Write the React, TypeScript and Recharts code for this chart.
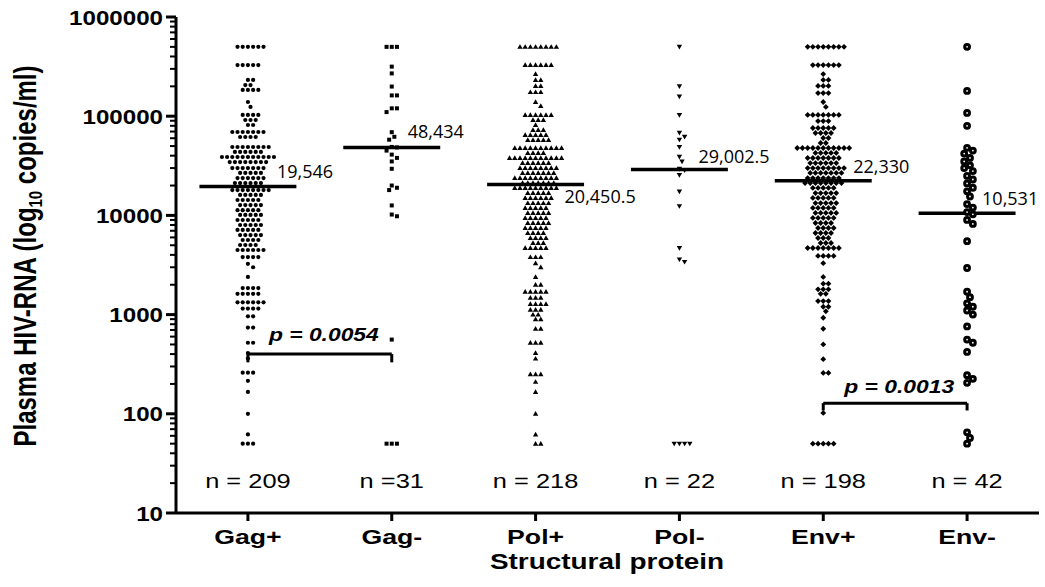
import React from 'react';
import { ScatterChart, Scatter, XAxis, YAxis, ReferenceLine } from 'recharts';

// Plasma HIV-RNA (copies/ml) per structural-protein group
const categories = ['Gag+', 'Gag-', 'Pol+', 'Pol-', 'Env+', 'Env-'];
const sampleSizes = ['n = 209', 'n =31', 'n = 218', 'n = 22', 'n = 198', 'n = 42'];
const medians = [19546, 48434, 20450.5, 29002.5, 22330, 10531];
const medianLabels = ['19,546', '48,434', '20,450.5', '29,002.5', '22,330', '10,531'];

const gagPos = [
  500000, 500000, 500000, 500000, 500000, 500000,
  328000, 328000, 328000, 328000, 328000,
  232000, 232000, 206000, 206000, 184000, 184000, 184000, 184000,
  139000, 124000, 103000, 103000, 103000, 103000, 91600, 91600, 91600, 81500, 81500,
  69300, 69300, 69300, 69300, 69300, 69300, 69300, 61700, 61700, 61700, 61700,
  48900, 48900, 48900, 48900, 48900, 48900, 48900, 48900,
  43600, 43600, 43600, 43600, 43600, 43600,
  38800, 38800, 38800, 38800, 38800, 38800, 38800, 38800, 38800, 38800, 38800,
  34500, 34500, 34500, 34500, 34500, 34500, 34500, 34500,
  30000, 30000, 30000, 30000, 30000, 30000, 30000, 26800, 26800, 26800, 26800, 26800,
  23800, 23800, 23800, 23800, 23800, 23800, 21200, 21200, 21200, 21200, 21200, 21200,
  18000, 18000, 18000, 18000, 18000, 18000, 18000, 18000,
  16100, 16100, 16100, 16100, 16100, 14300, 14300, 14300, 14300, 14300,
  12700, 12700, 12700, 12700, 12700, 11300, 11300, 11300, 11300, 11300,
  10100, 10100, 10100, 10100, 10100, 8990, 8990, 8990, 8990, 8990,
  8000, 8000, 8000, 8000, 8000, 7130, 7130, 7130, 7130, 7130,
  6340, 6340, 6340, 6340, 6340, 5650, 5650, 5650, 5650, 5030, 5030, 5030, 5030,
  4480, 4480, 4480, 4480, 4480, 4480,
  3800, 3800, 3800, 3800, 3250, 3000, 2400, 1850, 1850, 1850, 1850,
  1620, 1620, 1620, 1620, 1620, 1330, 1330, 1330, 1330, 1330, 1330,
  1150, 1150, 1150, 1150, 960, 960, 740, 740, 520, 520, 410, 360,
  260, 260, 260, 215, 166, 100, 62, 50, 50, 50,
];

const gagNeg = [
  500000, 500000, 500000, 316000, 270000, 199000, 162000, 162000, 120000, 120000, 110000,
  69000, 62000, 58000, 49000, 48434, 45000, 41000, 38000, 35000, 29500,
  20000, 19000, 18000, 12600, 10200, 9800, 560, 50, 50, 50,
];

const polPos = [
  500000, 500000, 500000, 500000, 500000, 500000, 500000, 500000,
  328000, 328000, 328000, 328000, 328000, 328000,
  266000, 232000, 232000, 202000, 202000, 175000, 175000, 175000, 139000, 127000,
  103000, 103000, 103000, 103000, 103000, 103000, 91600, 91600, 91600, 81500, 72600, 72600, 72600,
  64600, 64600, 64600, 64600, 64600, 57500, 57500, 57500, 57500, 57500,
  47800, 47800, 47800, 47800, 47800, 47800, 47800, 47800, 47800, 47800, 42600, 42600, 42600, 42600,
  37900, 37900, 37900, 37900, 37900, 37900, 37900, 37900, 37900, 37900, 37900,
  33700, 33700, 33700, 33700, 33700, 33700,
  30000, 30000, 30000, 30000, 30000, 30000, 30000, 30000, 26800, 26800, 26800, 26800, 26800, 26800, 26800,
  23800, 23800, 23800, 23800, 23800, 23800, 23800, 23800, 23800,
  21200, 21200, 21200, 21200, 21200, 21200, 21200,
  18900, 18900, 18900, 18900, 18900, 18900, 18900, 18900, 18900,
  16800, 16800, 16800, 16800, 16800, 15000, 15000, 15000, 15000, 15000, 15000,
  13300, 13300, 13300, 13300, 13300, 11900, 11900, 11900, 11900, 11900,
  10600, 10600, 10600, 10600, 10600, 9420, 9420, 9420, 9420, 9420,
  8380, 8380, 8380, 8380, 8380, 7460, 7460, 7460, 7460, 7460,
  6650, 6650, 6650, 6650, 5920, 5920, 5920, 5920, 5270, 5270, 5270, 4690, 4690, 4690, 4690, 4690,
  3800, 3800, 3800, 3300, 3000, 2400, 2000, 2000, 1700, 1700, 1700, 1700, 1700,
  1480, 1480, 1480, 1280, 1280, 1280, 1280, 1120, 1120, 1120, 1000, 1000, 900, 900,
  720, 720, 520, 520, 520, 410, 360, 250, 250, 250, 210, 166, 100, 62, 50, 50,
];

const polNeg = [
  500000, 200000, 158000, 103000, 68000, 62000, 58000, 49000, 39000, 35000, 29500,
  28505, 25500, 17400, 12400, 4700, 3600, 3400, 50, 50, 50, 50,
];

const envPos = [
  500000, 500000, 500000, 500000, 500000, 500000, 500000, 500000,
  328000, 328000, 328000, 328000, 328000, 328000,
  266000, 232000, 232000, 202000, 202000, 202000, 171000, 171000, 171000, 139000, 124000,
  103000, 103000, 103000, 103000, 103000, 103000, 103000, 89400, 89400, 89400,
  76000, 76000, 76000, 76000, 76000, 67700, 67700, 67700, 67700, 60300, 60300, 53700, 53700,
  47800, 47800, 47800, 47800, 47800, 47800, 47800, 47800, 47800, 47800, 47800,
  42600, 42600, 42600, 42600, 42600, 37900, 37900, 37900, 37900, 37900, 37900, 37900,
  33700, 33700, 33700, 33700, 33700, 33700, 30000, 30000, 30000, 30000, 30000, 30000, 30000, 30000,
  26800, 26800, 26800, 26800, 26800, 26800, 26800, 23800, 23800, 23800, 23800, 23800, 23800, 23800,
  21200, 21200, 21200, 21200, 21200, 21200, 21200, 21200,
  18900, 18900, 18900, 18900, 18900, 16800, 16800, 16800, 16800, 16800,
  15000, 15000, 15000, 15000, 15000, 13300, 13300, 13300, 13300, 13300,
  11900, 11900, 11900, 11900, 11900, 10600, 10600, 10600, 10600, 10600,
  9420, 9420, 9420, 9420, 9420, 8380, 8380, 8380, 8380, 7460, 7460, 7460, 7460,
  6650, 6650, 6650, 6650, 5920, 5920, 5920, 5270, 5270, 5270,
  4690, 4690, 4690, 4690, 4690, 4690, 4690,
  3900, 3900, 3900, 3900, 3300, 2400, 2050, 2050, 1800, 1800, 1800, 1620, 1620,
  1370, 1370, 1370, 1200, 1200, 1080, 930, 720, 500, 355, 258, 258, 102, 50, 50, 50, 50, 50,
];

const envNeg = [
  500000, 180000, 108000, 80000, 48000, 45000, 42000, 38000, 35000, 32000, 30000,
  28000, 25000, 23000, 21000, 19000, 17500, 15500, 13000, 12000, 10800,
  10262, 9000, 8200, 5500, 2950, 1700, 1500, 1300, 1200, 1100, 1000,
  760, 560, 520, 420, 245, 225, 205, 65, 57, 50,
];

// Mann-Whitney comparisons drawn as brackets
const pLabels = ['p = 0.0054', 'p = 0.0013'];
const pFrom = [1, 5];
const pTo = [2, 6];
const pLevel = [400, 128];
const pDrop = [330, 108];

const yMajorTicks = [10, 100, 1000, 10000, 100000, 1000000];
const yMinorTicks = [
  20, 30, 40, 50, 60, 70, 80, 90,
  200, 300, 400, 500, 600, 700, 800, 900,
  2000, 3000, 4000, 5000, 6000, 7000, 8000, 9000,
  20000, 30000, 40000, 50000, 60000, 70000, 80000, 90000,
  200000, 300000, 400000, 500000, 600000, 700000, 800000, 900000,
];

// ---- layout ----
const WIDTH = 1045;
const HEIGHT = 587;
const TOP = 17;
const RIGHT = 6;
const Y_AXIS_W = 176;
const X_AXIS_H = 74;
const PLOT_W = WIDTH - Y_AXIS_W - RIGHT;
const PLOT_H = HEIGHT - TOP - X_AXIS_H;
const PX_PER_CAT = PLOT_W / 6;
const MEDIAN_HALF = 0.337;
const STRETCH = 1.27;
const FONT = "'Liberation Sans', Arial, sans-serif";

const medianLabelShift = [
  [29, -9], [16, -9], [29, 18], [19, -7], [30, -8], [15, -8],
];
const pLabelLift = [13, 10];

const toPx = (v: number) => TOP + ((6 - Math.log10(v)) / 5) * PLOT_H;

// simple beeswarm: spread points sideways until they stop overlapping
function swarm(values: number[], cat: number, gap: number) {
  const placed: { dx: number; py: number }[] = [];
  return [...values]
    .sort((a, b) => b - a)
    .map((v) => {
      const py = toPx(v);
      let dx = 0;
      for (let k = 0; k < 400; k++) {
        const c = (k % 2 ? 1 : -1) * Math.ceil(k / 2) * (gap / 2);
        if (placed.every((q) => (q.dx - c) ** 2 + (q.py - py) ** 2 >= gap * gap - 0.01)) {
          dx = c;
          break;
        }
      }
      placed.push({ dx, py });
      return { x: cat + dx / PX_PER_CAT, y: v };
    });
}

const Dot = (p: any) => <circle cx={p.cx} cy={p.cy} r={2.1} fill="#000" />;
const Square = (p: any) => <rect x={p.cx - 2} y={p.cy - 2} width={4} height={4} fill="#000" />;
const TriUp = (p: any) => (
  <polygon points={`${p.cx},${p.cy - 2.7} ${p.cx + 2.7},${p.cy + 2} ${p.cx - 2.7},${p.cy + 2}`} fill="#000" />
);
const TriDown = (p: any) => (
  <polygon points={`${p.cx},${p.cy + 2.7} ${p.cx + 2.7},${p.cy - 2} ${p.cx - 2.7},${p.cy - 2}`} fill="#000" />
);
const Diamond = (p: any) => (
  <polygon points={`${p.cx},${p.cy - 2.9} ${p.cx + 2.9},${p.cy} ${p.cx},${p.cy + 2.9} ${p.cx - 2.9},${p.cy}`} fill="#000" />
);
const Ring = (p: any) => <circle cx={p.cx} cy={p.cy} r={2.4} fill="#fff" stroke="#000" strokeWidth={3} />;

const series = [
  { points: swarm(gagPos, 1, 5.2), shape: Dot },
  { points: swarm(gagNeg, 2, 5.2), shape: Square },
  { points: swarm(polPos, 3, 5.2), shape: TriUp },
  { points: swarm(polNeg, 4, 5.2), shape: TriDown },
  { points: swarm(envPos, 5, 5.2), shape: Diamond },
  { points: swarm(envNeg, 6, 5.8), shape: Ring },
];

const medianTextData = medians.map((m, i) => ({
  x: i + 1,
  y: m,
  label: medianLabels[i],
  dx: medianLabelShift[i][0],
  dy: medianLabelShift[i][1],
}));

const pTextData = pLabels.map((label, i) => ({
  x: (pFrom[i] + pTo[i]) / 2,
  y: pLevel[i],
  label,
  lift: pLabelLift[i],
}));

const MedianText = (p: any) => (
  <text x={p.cx + p.payload.dx} y={p.cy + p.payload.dy} fontFamily="'Open Sans', sans-serif" fontSize={18} fill="#000">
    {p.payload.label}
  </text>
);

const PText = (p: any) => (
  <text
    transform={`translate(${p.cx + 4},${p.cy - p.payload.lift}) scale(${STRETCH},1)`}
    textAnchor="middle"
    fontFamily={FONT}
    fontWeight="bold"
    fontStyle="italic"
    fontSize={18}
    fill="#000"
  >
    {p.payload.label}
  </text>
);

const YTick = ({ x, y, payload }: any) => {
  const major = yMajorTicks.includes(payload.value);
  return (
    <g>
      <line x1={x - (major ? 10 : 6)} x2={x} y1={y} y2={y} stroke="#000" strokeWidth={major ? 3 : 2} />
      {major && (
        <text
          transform={`translate(${x - 13},${y + 7.5}) scale(1.15,1)`}
          textAnchor="end"
          fontFamily={FONT}
          fontWeight="bold"
          fontSize={21}
          fill="#000"
        >
          {payload.value}
        </text>
      )}
    </g>
  );
};

const XTick = ({ x, y, payload }: any) => {
  const i = payload.value - 1;
  return (
    <g>
      <line x1={x} x2={x} y1={y} y2={y + 8} stroke="#000" strokeWidth={3} />
      <text
        transform={`translate(${x},${y + 31}) scale(${STRETCH},1)`}
        textAnchor="middle"
        fontFamily={FONT}
        fontWeight="bold"
        fontSize={21}
        fill="#000"
      >
        {categories[i]}
      </text>
      <text
        transform={`translate(${x},${y - 25}) scale(${STRETCH},1)`}
        textAnchor="middle"
        fontFamily={FONT}
        fontSize={20}
        fill="#000"
      >
        {sampleSizes[i]}
      </text>
    </g>
  );
};

export default function App() {
  return (
    <div style={{ position: 'absolute', left: 0, top: 0, width: WIDTH, height: HEIGHT, background: '#fff' }}>
      <ScatterChart width={WIDTH} height={HEIGHT} margin={{ top: TOP, right: RIGHT, bottom: 0, left: 0 }}>
        <XAxis
          type="number"
          dataKey="x"
          domain={[0.5, 6.5]}
          ticks={[1, 2, 3, 4, 5, 6]}
          interval={0}
          height={X_AXIS_H}
          tickSize={0}
          tickMargin={0}
          tickLine={false}
          axisLine={{ stroke: '#000', strokeWidth: 3 }}
          tick={(props: any) => <XTick {...props} />}
          allowDataOverflow
        />
        <YAxis
          type="number"
          dataKey="y"
          scale="log"
          domain={[10, 1000000]}
          ticks={[...yMajorTicks, ...yMinorTicks]}
          interval={0}
          width={Y_AXIS_W}
          tickSize={0}
          tickMargin={0}
          tickLine={false}
          axisLine={{ stroke: '#000', strokeWidth: 3 }}
          tick={(props: any) => <YTick {...props} />}
          allowDataOverflow
        />
        {series.map((s, i) => (
          <Scatter key={categories[i]} name={categories[i]} data={s.points} shape={s.shape} isAnimationActive={false} />
        ))}
        {medians.map((m, i) => (
          <ReferenceLine
            key={`median-${i}`}
            segment={[{ x: i + 1 - MEDIAN_HALF, y: m }, { x: i + 1 + MEDIAN_HALF, y: m }]}
            stroke="#000"
            strokeWidth={3.5}
          />
        ))}
        {pLabels.map((_, i) => (
          <ReferenceLine
            key={`bracket-${i}`}
            segment={[{ x: pFrom[i], y: pLevel[i] }, { x: pTo[i], y: pLevel[i] }]}
            stroke="#000"
            strokeWidth={3}
          />
        ))}
        {pLabels.map((_, i) => (
          <ReferenceLine
            key={`tick-l-${i}`}
            segment={[{ x: pFrom[i], y: pLevel[i] }, { x: pFrom[i], y: pDrop[i] }]}
            stroke="#000"
            strokeWidth={3}
          />
        ))}
        {pLabels.map((_, i) => (
          <ReferenceLine
            key={`tick-r-${i}`}
            segment={[{ x: pTo[i], y: pLevel[i] }, { x: pTo[i], y: pDrop[i] }]}
            stroke="#000"
            strokeWidth={3}
          />
        ))}
        <Scatter name="medianText" data={medianTextData} shape={MedianText} isAnimationActive={false} />
        <Scatter name="pText" data={pTextData} shape={PText} isAnimationActive={false} />
      </ScatterChart>
      <svg width={WIDTH} height={HEIGHT} style={{ position: 'absolute', left: 0, top: 0, pointerEvents: 'none' }}>
        <text
          transform={`translate(36,256) scale(${STRETCH},1) rotate(-90)`}
          textAnchor="middle"
          fontFamily={FONT}
          fontWeight="bold"
          fontSize={24}
          fill="#000"
        >
          Plasma HIV-RNA (log
          <tspan fontSize={15} dy={5}>10</tspan>
          <tspan dy={-5}> copies/ml)</tspan>
        </text>
        <text
          transform={`translate(607,569) scale(${STRETCH},1)`}
          textAnchor="middle"
          fontFamily={FONT}
          fontWeight="bold"
          fontSize={22}
          fill="#000"
        >
          Structural protein
        </text>
      </svg>
    </div>
  );
}
